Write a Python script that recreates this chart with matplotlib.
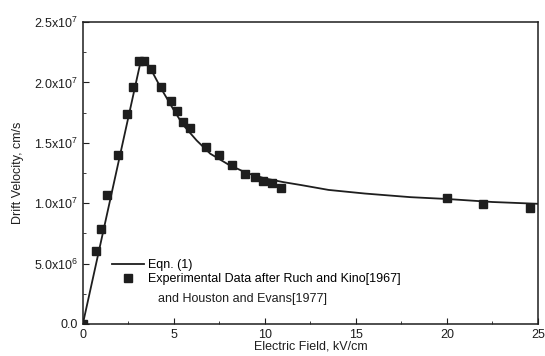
import matplotlib
matplotlib.use("Agg")
import matplotlib.pyplot as plt
from matplotlib.ticker import MultipleLocator

plt.rcParams['font.family'] = ['Liberation Sans', 'DejaVu Sans']
plt.rcParams['mathtext.fontset'] = 'custom'
plt.rcParams['mathtext.rm'] = 'Liberation Sans'
plt.rcParams['mathtext.it'] = 'Liberation Sans'

# Eqn. (1) curve
eqn_field = [0, 3.2, 3.7, 4.3, 5.0, 5.5, 6.25, 7.0, 8.0, 9.0, 10, 11, 12,
             13.5, 15.5, 18, 20, 22.5, 25]
eqn_vel = [0, 2.19e7, 2.12e7, 1.95e7, 1.77e7, 1.65e7, 1.52e7, 1.41e7, 1.32e7,
           1.25e7, 1.205e7, 1.175e7, 1.15e7, 1.11e7, 1.08e7, 1.05e7, 1.035e7,
           1.01e7, 0.995e7]

# experimental points (Ruch and Kino, Houston and Evans)
exp_field = [0, 0.75, 1.0, 1.35, 1.94, 2.45, 2.78, 3.1, 3.35, 3.75, 4.3,
             4.87, 5.2, 5.48, 5.86, 6.74, 7.49, 8.17, 8.9, 9.45, 9.9, 10.4,
             10.9, 20.0, 22.0, 24.55]
exp_vel = [0, 6.07e6, 7.86e6, 1.068e7, 1.40e7, 1.738e7, 1.964e7, 2.18e7,
           2.18e7, 2.11e7, 1.964e7, 1.849e7, 1.766e7, 1.67e7, 1.62e7,
           1.468e7, 1.40e7, 1.316e7, 1.24e7, 1.214e7, 1.186e7, 1.165e7,
           1.13e7, 1.04e7, 0.991e7, 0.958e7]

y_ticks = [0, 0.5e7, 1.0e7, 1.5e7, 2.0e7, 2.5e7]
y_labels = ['0.0', r'5.0x10$^6$', r'1.0x10$^7$', r'1.5x10$^7$',
            r'2.0x10$^7$', r'2.5x10$^7$']

fig = plt.figure(figsize=(5.45, 3.56), dpi=100)
ax = fig.add_axes([0.152, 0.09, 0.835, 0.848])

ink = '#1e1e1e'
ax.plot(eqn_field, eqn_vel, '-', color=ink, lw=1.3, label='Eqn. (1)')
ax.plot(exp_field, exp_vel, 's', color=ink, ms=5.5, ls='none',
        label='Experimental Data after Ruch and Kino[1967]')

ax.set_xlim(0, 25)
ax.set_ylim(0, 2.5e7)
ax.set_xticks([0, 5, 10, 15, 20, 25])
ax.xaxis.set_minor_locator(MultipleLocator(2.5))
ax.set_yticks(y_ticks)
ax.set_yticklabels(y_labels)
ax.yaxis.set_minor_locator(MultipleLocator(0.25e7))
ax.tick_params(which='both', direction='in', top=False, right=False,
               labelsize=9, colors=ink)
ax.tick_params(which='major', length=4)
ax.tick_params(which='minor', length=2.5)
for s in ax.spines.values():
    s.set_linewidth(1.1)
    s.set_color(ink)

ax.set_xlabel('Electric Field, kV/cm', fontsize=9, labelpad=0, color=ink)
ax.set_ylabel('Drift Velocity, cm/s', fontsize=9, labelpad=7, color=ink)

ax.legend(loc='upper left', bbox_to_anchor=(0.064, 0.215), frameon=False,
          fontsize=9, handlelength=2.6, handletextpad=0.3,
          labelspacing=0.15, borderpad=0, borderaxespad=0)
ax.text(0.166, 0.083, 'and Houston and Evans[1977]', transform=ax.transAxes,
        fontsize=9, va='center', ha='left', color=ink)

plt.savefig('out.png', dpi=100)
